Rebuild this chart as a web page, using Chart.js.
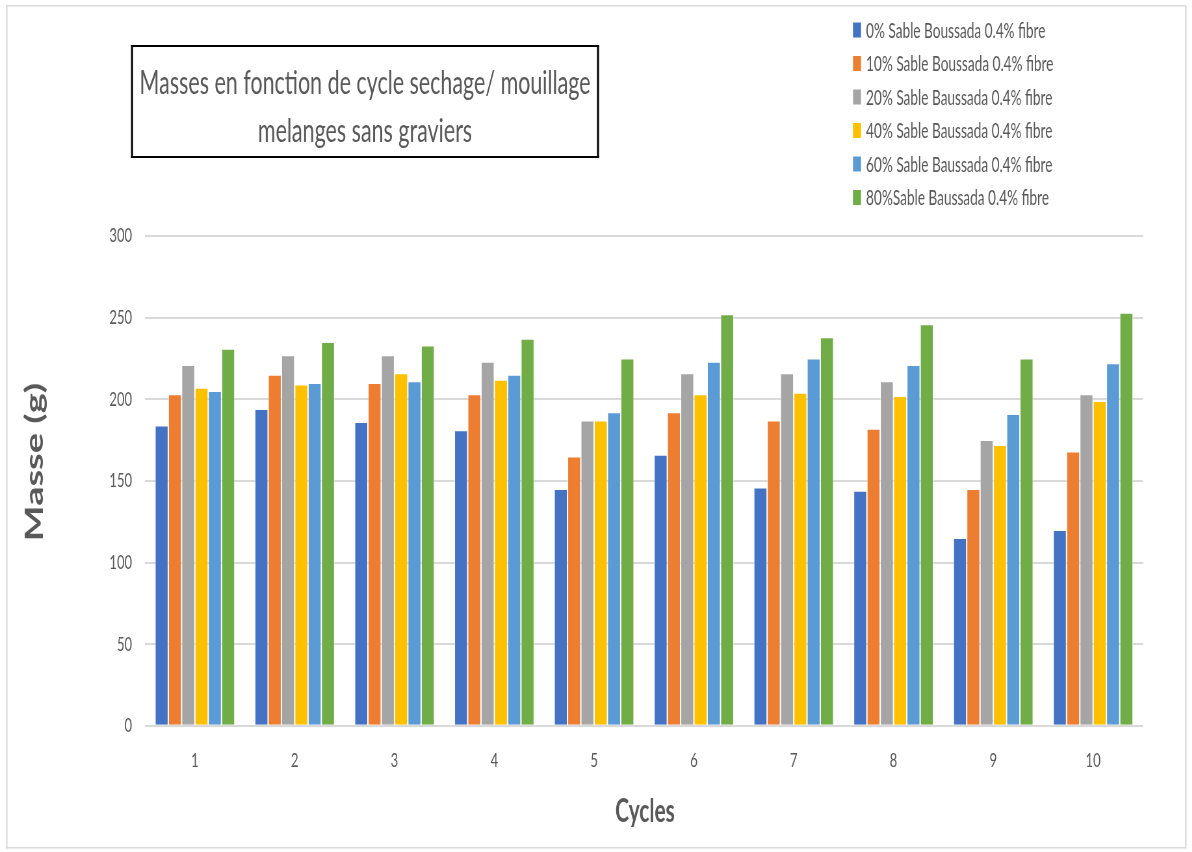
<!DOCTYPE html>
<html>
<head>
<meta charset="utf-8">
<script src="https://cdn.jsdelivr.net/npm/chart.js@4.4.1/dist/chart.umd.min.js"></script>
<style>
  html, body { margin: 0; padding: 0; background: #fff; overflow: hidden; }
  #wrap { width: 1192px; height: 852px; overflow: hidden; position: relative; }
  #c { position: absolute; left: 0; top: 0; transform-origin: 0 0; }
</style>
</head>
<body>
<div id="wrap"><canvas id="c"></canvas></div>
<script>
// Cycles séchage / mouillage
const cycles = ['1', '2', '3', '4', '5', '6', '7', '8', '9', '10'];

const seriesNames = [
  '0% Sable Boussada 0.4% fibre',
  '10% Sable Boussada 0.4% fibre',
  '20% Sable Baussada 0.4% fibre',
  '40% Sable Baussada 0.4% fibre',
  '60% Sable Baussada 0.4% fibre',
  '80%Sable Baussada 0.4% fibre'
];

// Masses (g) per cycle
const sable0  = [184, 194, 186, 181, 145, 166, 146, 144, 115, 120];
const sable10 = [203, 215, 210, 203, 165, 192, 187, 182, 145, 168];
const sable20 = [221, 227, 227, 223, 187, 216, 216, 211, 175, 203];
const sable40 = [207, 209, 216, 212, 187, 203, 204, 202, 172, 199];
const sable60 = [205, 210, 211, 215, 192, 223, 225, 221, 191, 222];
const sable80 = [231, 235, 233, 237, 225, 252, 238, 246, 225, 253];

const seriesColors = ['#4472C4', '#ED7D31', '#A5A5A5', '#FFC000', '#5B9BD5', '#70AD47'];

const yMin = 0, yMax = 300, yStep = 50;

const titleLines = ['Masses en fonction de cycle sechage/ mouillage', 'melanges sans graviers'];
const yTitle = 'Masse (g)';
const xTitle = 'Cycles';

// The canvas is drawn wide and squeezed horizontally to the page width.
const SX = 0.65;
const W = Math.round(1192 / SX);
const H = 852;
const X = v => v / SX;          // page x -> canvas x
const TEXT = '#595959';
const FONT = 'Lato, "Open Sans", sans-serif';

const canvas = document.getElementById('c');
canvas.width = W;
canvas.height = H;
canvas.style.width = W + 'px';
canvas.style.height = H + 'px';
canvas.style.transform = 'scaleX(' + SX + ')';

const plot = { left: 145, right: 1143, top: 236, bottom: 725.8 };
const yAxisW = 60, xAxisH = 60;

const decor = {
  id: 'decor',
  afterDraw(chart) {
    const ctx = chart.ctx;
    ctx.save();

    // outer frame
    ctx.fillStyle = '#d9d9d9';
    ctx.fillRect(X(6), 5, X(1186) - X(6), 1.5);
    ctx.fillRect(X(6), 847, X(1186) - X(6), 1.5);
    ctx.fillRect(X(6), 5, 1.5 / SX, 843.5);
    ctx.fillRect(X(1185), 5, 1.5 / SX, 843.5);

    // title box
    const bl = X(131), br = X(599), bt = 45, bb = 158;
    ctx.fillStyle = '#000';
    ctx.fillRect(bl, bt, br - bl, 2);
    ctx.fillRect(bl, bb - 2, br - bl, 2);
    ctx.fillRect(bl, bt, 2 / SX, bb - bt);
    ctx.fillRect(br - 2 / SX, bt, 2 / SX, bb - bt);

    ctx.fillStyle = TEXT;
    ctx.font = '33px ' + FONT;
    ctx.textAlign = 'center';
    ctx.textBaseline = 'middle';
    ctx.fillText(titleLines[0], X(365), 83);
    ctx.fillText(titleLines[1], X(365), 131);

    // legend
    ctx.font = '21px ' + FONT;
    ctx.textAlign = 'left';
    chart.data.datasets.forEach((ds, i) => {
      const y = 30 + i * 33.5;
      ctx.fillStyle = ds.backgroundColor;
      ctx.fillRect(X(853), y - 7.5, X(861) - X(853), 15);
      ctx.fillStyle = TEXT;
      ctx.fillText(ds.label, X(866), y + 1);
    });

    // axis titles
    ctx.font = 'bold 38px ' + FONT;
    ctx.textAlign = 'center';
    ctx.save();
    ctx.translate(X(35), 462);
    ctx.rotate(-Math.PI / 2);
    ctx.fillText(yTitle, 0, 0);
    ctx.restore();

    ctx.font = 'bold 32px ' + FONT;
    ctx.fillText(xTitle, X(645), 812);

    ctx.restore();
  }
};

const seriesValues = [sable0, sable10, sable20, sable40, sable60, sable80];

new Chart(canvas, {
  type: 'bar',
  data: {
    labels: cycles,
    datasets: seriesNames.map((name, i) => ({
      label: name,
      data: seriesValues[i],
      backgroundColor: seriesColors[i],
      borderColor: 'rgba(255,255,255,0.55)',
      borderWidth: 1,
      barPercentage: 1.0,
      categoryPercentage: 0.8
    }))
  },
  options: {
    responsive: false,
    devicePixelRatio: 1,
    animation: false,
    layout: {
      padding: {
        left: X(plot.left) - yAxisW,
        right: W - X(plot.right),
        top: plot.top,
        bottom: H - plot.bottom - xAxisH
      }
    },
    plugins: {
      legend: { display: false },
      title: { display: false },
      tooltip: { enabled: false }
    },
    scales: {
      x: {
        grid: { display: false, drawTicks: false },
        border: { display: false },
        ticks: { color: TEXT, font: { family: FONT, size: 20 }, padding: 23 },
        afterFit: s => { s.height = xAxisH; }
      },
      y: {
        min: yMin,
        max: yMax,
        ticks: { stepSize: yStep, color: TEXT, font: { family: FONT, size: 20 }, padding: 20 },
        grid: { color: '#d9d9d9', lineWidth: 2, drawTicks: false },
        border: { display: false },
        afterFit: s => { s.width = yAxisW; }
      }
    }
  },
  plugins: [decor]
});
</script>
</body>
</html>
